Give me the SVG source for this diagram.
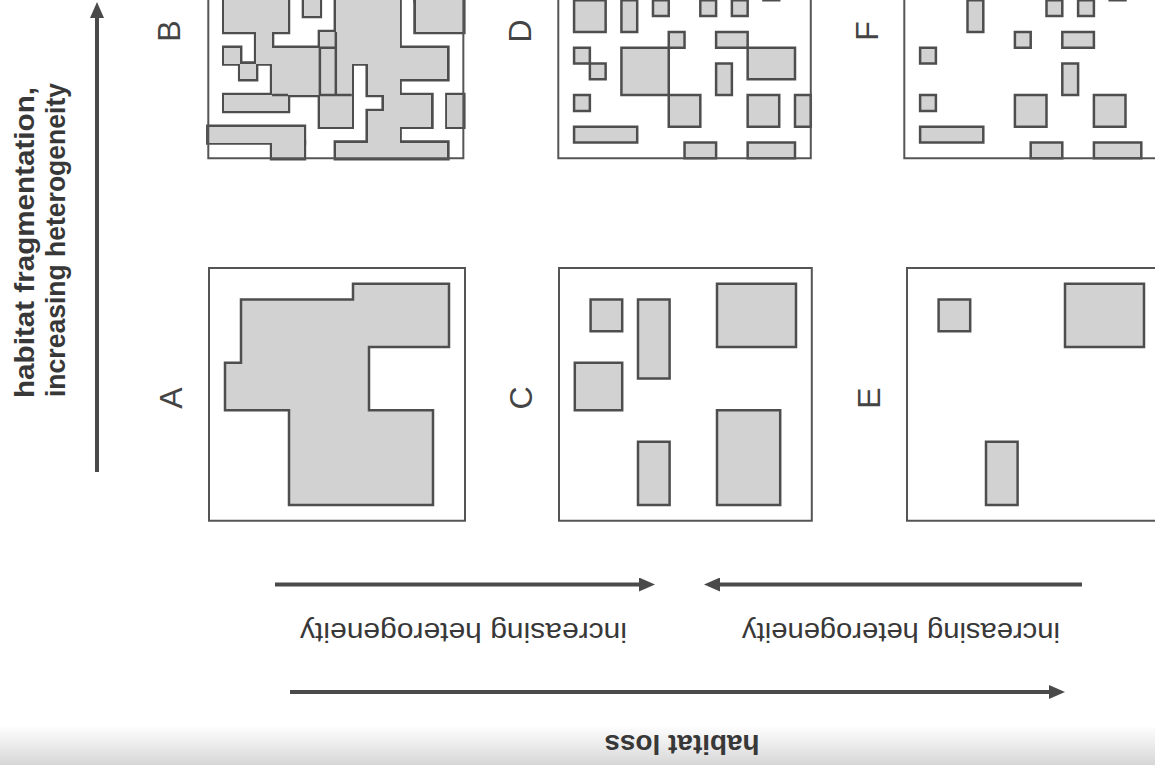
<svg xmlns="http://www.w3.org/2000/svg" width="1155" height="765" viewBox="0 0 1155 765">
<defs>
<style>
.frame{fill:none;stroke:#555;stroke-width:2;vector-effect:non-scaling-stroke}
.patch{fill:#d2d2d2;stroke:#4e4e4e;stroke-width:2.5;vector-effect:non-scaling-stroke}
#bcells rect{vector-effect:non-scaling-stroke}
.cellstroke{fill:none;stroke:#4e4e4e;stroke-width:4.5}
.cellfill{fill:#d2d2d2;stroke:none;shape-rendering:crispEdges}
.inner{fill:none;stroke:#4e4e4e;stroke-width:2.5;vector-effect:non-scaling-stroke}
.letter{font-family:"Liberation Sans",Arial,sans-serif;font-size:32px;fill:#444;text-anchor:middle}
.lab{font-family:"Liberation Sans",Arial,sans-serif;fill:#383838}
.arrow{stroke:#4a4a4a;stroke-width:4;fill:none;marker-end:url(#ah)}
</style>
<marker id="ah" viewBox="0 0 16 14" markerWidth="16" markerHeight="14" refX="4" refY="7" orient="auto" markerUnits="userSpaceOnUse">
<path d="M0,0 L16,7 L0,14 Z" fill="#4a4a4a"/>
</marker>
<linearGradient id="scan" x1="0" y1="0" x2="0" y2="1">
<stop offset="0" stop-color="#cfcfcf" stop-opacity="0"/>
<stop offset="1" stop-color="#cccccc" stop-opacity="0.8"/>
</linearGradient>
</defs>
<rect width="1155" height="765" fill="#ffffff"/>
<rect x="0" y="725" width="1155" height="40" fill="url(#scan)"/>

<g id="panel-A">
<text class="letter" transform="translate(170,398) rotate(-90)" y="11.5">A</text>
<g transform="translate(209,268) scale(16,15.8)">
<polygon class="patch" points="2,2 9,2 9,1 15,1 15,5 10,5 10,9 14,9 14,15 5,15 5,9 1,9 1,6 2,6"/>
<rect class="frame" x="0" y="0" width="16" height="16"/>
</g>
</g>

<g id="panel-C">
<text class="letter" transform="translate(520,398) rotate(-90)" y="11.5">C</text>
<g transform="translate(559,268) scale(15.8)">
<rect class="patch" x="2" y="2" width="2" height="2"/>
<rect class="patch" x="5" y="2" width="2" height="5"/>
<rect class="patch" x="10" y="1" width="5" height="4"/>
<rect class="patch" x="1" y="6" width="3" height="3"/>
<rect class="patch" x="5" y="11" width="2" height="4"/>
<rect class="patch" x="10" y="9" width="4" height="6"/>
<rect class="frame" x="0" y="0" width="16" height="16"/>
</g>
</g>

<g id="panel-E">
<text class="letter" transform="translate(868,398) rotate(-90)" y="11.5">E</text>
<g transform="translate(907,268) scale(15.8)">
<rect class="patch" x="2" y="2" width="2" height="2"/>
<rect class="patch" x="10" y="1" width="5" height="4"/>
<rect class="patch" x="5" y="11" width="2" height="4"/>
<rect class="frame" x="0" y="0" width="16" height="16"/>
</g>
</g>

<g id="panel-B">
<text class="letter" transform="translate(168,31) rotate(-90)" y="11.5">B</text>
<g transform="translate(208.3,-94.5) scale(15.94,15.8)">
<g class="cellstroke">
<g id="bcells">
<rect x="1" y="6" width="4" height="2"/>
<rect x="3" y="5" width="1" height="1"/>
<rect x="3" y="8" width="1" height="2"/>
<rect x="6" y="6" width="1" height="1"/>
<rect x="1" y="9" width="1" height="1"/>
<rect x="2" y="10" width="1" height="1"/>
<rect x="8" y="5" width="4" height="5"/>
<rect x="13" y="5" width="1" height="1"/>
<rect x="13" y="6" width="3" height="2"/>
<rect x="7" y="8" width="1" height="1"/>
<rect x="4" y="9" width="4" height="3"/>
<rect x="8" y="10" width="1" height="2"/>
<rect x="12" y="9" width="3" height="2"/>
<rect x="10" y="10" width="2" height="2"/>
<rect x="11" y="12" width="1" height="1"/>
<rect x="10" y="13" width="2" height="2"/>
<rect x="7" y="12" width="2" height="2"/>
<rect x="12" y="12" width="2" height="2"/>
<rect x="15" y="12" width="1" height="2"/>
<rect x="1" y="12" width="4" height="1"/>
<rect x="0" y="14" width="6" height="1"/>
<rect x="4" y="15" width="2" height="1"/>
<rect x="8" y="15" width="7" height="1"/>
</g>
</g>
<use href="#bcells" class="cellfill"/>
<path class="inner" d="M7,9V12M8,8V12M7,9H8M7,12H9M4,12H5"/>
<rect class="frame" x="0" y="0" width="16" height="16"/>
</g>
</g>

<g id="panel-D">
<text class="letter" transform="translate(519,31) rotate(-90)" y="11.5">D</text>
<g transform="translate(558.3,-94.5) scale(15.78,15.8)">
<rect class="patch" x="1" y="6" width="2" height="2"/>
<rect class="patch" x="4" y="6" width="1" height="2"/>
<rect class="patch" x="6" y="6" width="1" height="1"/>
<rect class="patch" x="9" y="6" width="1" height="1"/>
<rect class="patch" x="11" y="6" width="1" height="1"/>
<rect class="patch" x="13" y="5" width="1" height="1"/>
<rect class="patch" x="7" y="8" width="1" height="1"/>
<rect class="patch" x="10" y="8" width="2" height="1"/>
<rect class="patch" x="1" y="9" width="1" height="1"/>
<rect class="patch" x="2" y="10" width="1" height="1"/>
<rect class="patch" x="4" y="9" width="3" height="3"/>
<rect class="patch" x="12" y="9" width="3" height="2"/>
<rect class="patch" x="10" y="10" width="1" height="2"/>
<rect class="patch" x="1" y="12" width="1" height="1"/>
<rect class="patch" x="7" y="12" width="2" height="2"/>
<rect class="patch" x="12" y="12" width="2" height="2"/>
<rect class="patch" x="15" y="12" width="1" height="2"/>
<rect class="patch" x="1" y="14" width="4" height="1"/>
<rect class="patch" x="8" y="15" width="2" height="1"/>
<rect class="patch" x="12" y="15" width="3" height="1"/>
<rect class="frame" x="0" y="0" width="16" height="16"/>
</g>
</g>

<g id="panel-F">
<text class="letter" transform="translate(866,31) rotate(-90)" y="11.5">F</text>
<g transform="translate(904.3,-94.5) scale(15.8)">
<rect class="patch" x="4" y="6" width="1" height="2"/>
<rect class="patch" x="9" y="6" width="1" height="1"/>
<rect class="patch" x="11" y="6" width="1" height="1"/>
<rect class="patch" x="13" y="5" width="1" height="1"/>
<rect class="patch" x="7" y="8" width="1" height="1"/>
<rect class="patch" x="10" y="8" width="2" height="1"/>
<rect class="patch" x="1" y="9" width="1" height="1"/>
<rect class="patch" x="10" y="10" width="1" height="2"/>
<rect class="patch" x="1" y="12" width="1" height="1"/>
<rect class="patch" x="7" y="12" width="2" height="2"/>
<rect class="patch" x="12" y="12" width="2" height="2"/>
<rect class="patch" x="1" y="14" width="4" height="1"/>
<rect class="patch" x="8" y="15" width="2" height="1"/>
<rect class="patch" x="12" y="15" width="3" height="1"/>
<rect class="frame" x="0" y="0" width="16" height="16"/>
</g>
</g>

<g id="connectors">
<line class="arrow" x1="97" y1="472" x2="97" y2="14"/>
<line class="arrow" x1="275" y1="584.5" x2="643" y2="584.5"/>
<line class="arrow" x1="1082" y1="584.5" x2="716" y2="584.5"/>
<line class="arrow" x1="290" y1="692" x2="1053" y2="692"/>
</g>

<g id="labels">
<text class="lab" font-weight="bold" font-size="27" transform="translate(34,398) rotate(-90)" textLength="311" lengthAdjust="spacingAndGlyphs">habitat fragmentation,</text>
<text class="lab" font-weight="bold" font-size="27" transform="translate(65,397) rotate(-90)" textLength="314" lengthAdjust="spacingAndGlyphs">increasing heterogeneity</text>
<text class="lab" font-size="28" text-anchor="middle" transform="translate(463.5,623) rotate(180)" textLength="327" lengthAdjust="spacingAndGlyphs">increasing heterogeneity</text>
<text class="lab" font-size="28" text-anchor="middle" transform="translate(901,623) rotate(180)" textLength="318" lengthAdjust="spacingAndGlyphs">increasing heterogeneity</text>
<text class="lab" font-weight="bold" font-size="28" text-anchor="middle" transform="translate(682,735) rotate(180)" textLength="155" lengthAdjust="spacingAndGlyphs">habitat loss</text>
</g>
</svg>
